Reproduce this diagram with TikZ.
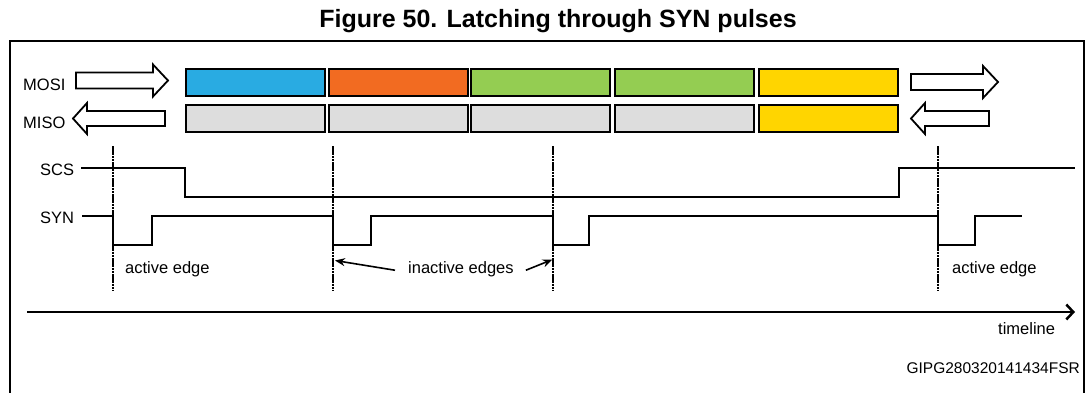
\documentclass[tikz,border=0pt]{standalone}
\usepackage{fontspec}
\setmainfont{Liberation Sans}
\usetikzlibrary{arrows.meta}
\definecolor{cblue}{HTML}{29ABE2}
\definecolor{corange}{HTML}{F26B21}
\definecolor{cgreen}{HTML}{94CD52}
\definecolor{cgrey}{HTML}{DDDDDD}
\definecolor{cyellow}{HTML}{FFD500}
\begin{document}
\begin{tikzpicture}[x=1pt,y=-1pt,
  lbl/.style={font=\fontsize{16.5}{18}\selectfont, inner sep=0pt, anchor=base west},
  frameline/.style={line width=2.2pt},
  seg/.style={draw, line width=2pt, minimum width=139pt, minimum height=27pt, inner sep=0pt, outer sep=0pt},
  hollow/.style={draw, line width=1.8pt, fill=white, line join=miter},
  sig/.style={line width=1.8pt},
  vline/.style={line width=1.5pt, dash pattern=on 2.5pt off 0.7pt},
  ptr/.style={line width=1.6pt, -{Stealth[length=10pt,width=8pt]}}]
\useasboundingbox (0,0) rectangle (1090,392);
% title
\node[font=\bfseries\fontsize{25}{28}\selectfont, inner sep=0pt, anchor=base] (title) at (558,27.5) {Figure 50. Latching through SYN pulses};
% frame
\draw[frameline] (10,393) -- (10,41) -- (1084,41) -- (1084,393);
% labels
\node[lbl] (mosi) at (23,90) {MOSI};
\node[lbl] (miso) at (23,128.3) {MISO};
\node[lbl] (scs) at (40,175) {SCS};
\node[lbl] (syn) at (40,223.3) {SYN};
% hollow arrows
\draw[hollow] (76,72.5) -- (153,72.5) -- (153,64.5) -- (168,80.5) -- (153,96.5) -- (153,88.5) -- (76,88.5) -- cycle;
\draw[hollow] (165,111) -- (87,111) -- (87,103) -- (73,118.5) -- (87,134) -- (87,126) -- (165,126) -- cycle;
\draw[hollow] (911,74) -- (983,74) -- (983,66) -- (998,82) -- (983,98) -- (983,90) -- (911,90) -- cycle;
\draw[hollow] (989,111) -- (925,111) -- (925,103) -- (911,118.5) -- (925,134) -- (925,126) -- (989,126) -- cycle;
% data boxes
\node[seg, fill=cblue]   (o1) at (255.5,82) {};
\node[seg, fill=corange] (o2) at (398,82) {};
\node[seg, fill=cgreen]  (o3) at (540.5,82) {};
\node[seg, fill=cgreen]  (o4) at (684.5,82) {};
\node[seg, fill=cyellow] (o5) at (828.5,82) {};
\node[seg, fill=cgrey]   (i1) at (255.5,118.5) {};
\node[seg, fill=cgrey]   (i2) at (398,118.5) {};
\node[seg, fill=cgrey]   (i3) at (540.5,118.5) {};
\node[seg, fill=cgrey]   (i4) at (684.5,118.5) {};
\node[seg, fill=cyellow] (i5) at (828.5,118.5) {};
% edge markers
\foreach \x in {113,333,553,938} \draw[vline] (\x,146) -- (\x,291);
% signals
\draw[sig] (81,167.7) -| (185,197.3) -| (899,167.7) -- (1075,167.7);
\draw[sig] (82,216) -| (113,245) -| (152,216) -| (333,245) -| (371,216) -| (553,245) -| (589,216) -| (938,245) -| (975,216) -- (1022,216);
% edge labels
\node[lbl] (ae1) at (125,273.5) {active edge};
\node[lbl] (ine) at (408,273.5) {inactive edges};
\node[lbl] (ae2) at (952,273.5) {active edge};
\coordinate (e2) at (335,260.5);
\coordinate (e3) at (552.5,259.5);
\draw[ptr] ([xshift=-13pt,yshift=-1pt]ine.west) -- (e2);
\draw[ptr] ([xshift=12pt,yshift=-1pt]ine.east) -- (e3);
% timeline
\coordinate (t0) at (27,312);
\coordinate (t1) at (1075,312);
\draw[line width=2.5pt, -{Straight Barb[length=7pt,width=15pt]}] (t0) -- (t1);
\node[lbl] (tl) at (998,334.3) {timeline};
\node[font=\fontsize{15.5}{17}\selectfont, inner sep=0pt, anchor=base east] (code) at (1080,373.3) {GIPG280320141434FSR};
\end{tikzpicture}
\end{document}
